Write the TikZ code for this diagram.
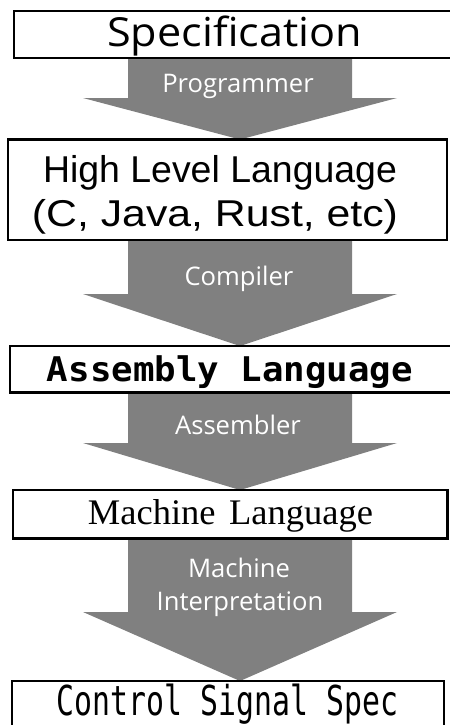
\documentclass[tikz,border=0pt]{standalone}
\usepackage{fontspec}
\usepackage{graphicx}
\usetikzlibrary{backgrounds}
\newfontfamily\specfont{Open Sans}
\newfontfamily\hllfont{Liberation Sans}
\newfontfamily\asmfont{DejaVu Sans Mono}
\newfontfamily\machfont{Liberation Serif}
\newfontfamily\ctrlfont{DejaVu Sans Mono}
\newfontfamily\stepfont{Open Sans}
\def\px{0.75pt}
\definecolor{flowgray}{HTML}{808080}
% block arrow from the bottom of one box to the top of the next; #3 = y of the head base
\newcommand\blockarrow[3]{%
  \fill[flowgray] (128,0 |- #1.south) -- (352,0 |- #1.south) -- (352,#3) -- (397,#3)
    -- (240,0 |- #2.north) -- (83,#3) -- (128,#3) -- cycle;}
\begin{document}
\begin{tikzpicture}[x=0.75pt,y=-0.75pt,
  levelbox/.style={draw=black,fill=white,line width=1.6pt,inner sep=0pt,outer sep=0pt},
  steplabel/.style={text=white,anchor=base,inner sep=0pt,font=\stepfont\fontsize{19.2}{22}\selectfont},
  leveltext/.style={anchor=base,inner sep=0pt}]
\useasboundingbox (0,0) rectangle (450,725);
\clip (0,0) rectangle (450,725);

% abstraction levels
\node[levelbox,minimum width=466*\px,minimum height=47*\px] (spec) at (247,34.5) {};
\node[levelbox,minimum width=439*\px,minimum height=100.5*\px] (hll) at (227.5,189.75) {};
\node[levelbox,minimum width=470*\px,minimum height=46.5*\px] (asm) at (245,369.25) {};
\node[levelbox,minimum width=434.5*\px,minimum height=48.5*\px] (mach) at (230.25,514.25) {};
\node[levelbox,minimum width=432*\px,minimum height=79*\px] (ctrl) at (228,720.5) {};

\node[leveltext] (specT) at (234.5,46)
  {\resizebox{191pt}{\height}{\specfont\fontsize{30}{36}\selectfont Specification}};
\node[leveltext] (hllA) at (220,182)
  {\resizebox{265.5pt}{\height}{\hllfont\fontsize{28}{32}\selectfont High Level Language}};
\node[leveltext] (hllB) at (215,226)
  {\resizebox{274.5pt}{\height}{\hllfont\fontsize{28}{32}\selectfont (C, Java, Rust, etc)}};
\node[leveltext] (asmT) at (230,381)
  {\resizebox{274.5pt}{\height}{\asmfont\bfseries\fontsize{25.5}{30}\selectfont Assembly Language}};
\node[leveltext] (machT) at (230.5,524)
  {\resizebox{213.75pt}{\height}{\machfont\fontsize{27}{31}\selectfont Machine\hspace{10pt}Language}};
\node[leveltext] (ctrlT) at (227.5,715)
  {\resizebox{255.75pt}{\height}{\ctrlfont\fontsize{30.9}{36}\selectfont Control Signal Spec}};

% translation steps
\begin{pgfonlayer}{background}
\blockarrow{spec}{hll}{98}
\blockarrow{hll}{asm}{294}
\blockarrow{asm}{mach}{443}
\blockarrow{mach}{ctrl}{612}
\end{pgfonlayer}

\node[steplabel] (lprog) at (238,92) {Programmer};
\node[steplabel] (lcomp) at (239,285) {Compiler};
\node[steplabel] (lasm) at (238,434) {Assembler};
\node[steplabel] (lmachA) at (239,577) {Machine};
\node[steplabel] (lmachB) at (240,610) {Interpretation};
\end{tikzpicture}
\end{document}
